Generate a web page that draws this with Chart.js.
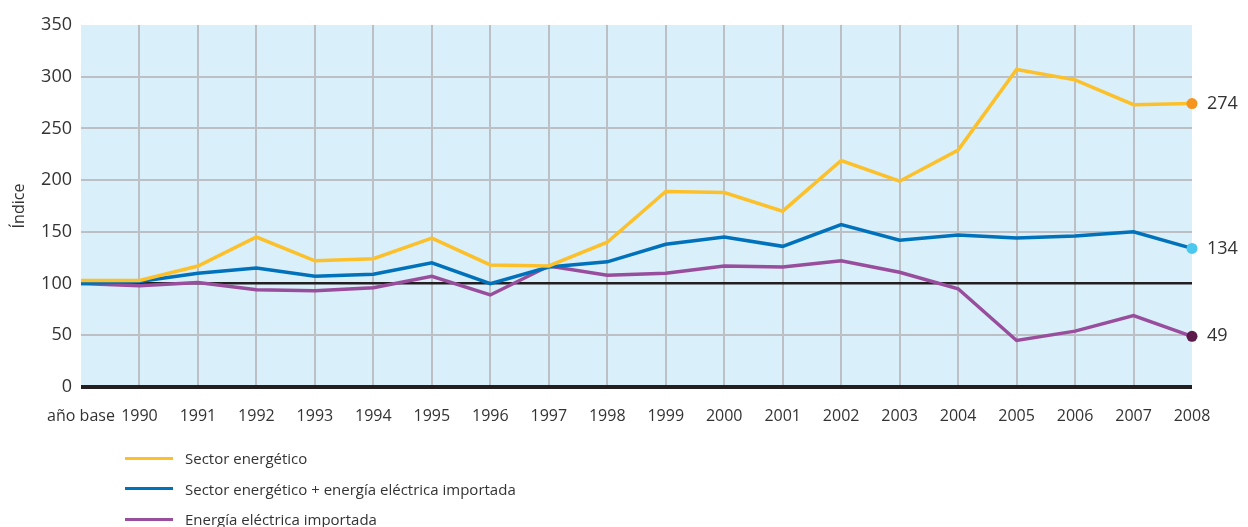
<!DOCTYPE html>
<html>
<head>
<meta charset="utf-8">
<script src="https://cdn.jsdelivr.net/npm/chart.js@4.4.0/dist/chart.umd.min.js"></script>
<style>
  html, body { margin: 0; padding: 0; background: #fff; }
  #wrap { position: relative; width: 1248px; height: 527px; overflow: hidden; }
  #legend { position: absolute; left: 125px; top: 443px; font-family: "Open Sans", sans-serif; font-size: 15px; color: #333; }
  #legend div { height: 30.5px; display: flex; align-items: center; }
  #legend span.sw { display: inline-block; width: 48px; height: 3px; margin-right: 12px; }
</style>
</head>
<body>
<div id="wrap">
  <canvas id="chart" width="1248" height="527"></canvas>
  <div id="legend">
    <div><span class="sw" style="background:#fcc12a"></span>Sector energético</div>
    <div><span class="sw" style="background:#0071bb"></span>Sector energético + energía eléctrica importada</div>
    <div><span class="sw" style="background:#984d9d"></span>Energía eléctrica importada</div>
  </div>
</div>
<script>
// categories and series
var categories = ['año base', '1990', '1991', '1992', '1993', '1994', '1995', '1996', '1997', '1998',
                  '1999', '2000', '2001', '2002', '2003', '2004', '2005', '2006', '2007', '2008'];
var sectorEnergetico = [103, 103, 117, 145, 122, 124, 144, 118, 117, 140, 189, 188, 170, 219, 199, 229, 307, 297, 273, 274];
var sectorMasImportada = [100, 102, 110, 115, 107, 109, 120, 100, 116, 121, 138, 145, 136, 157, 142, 147, 144, 146, 150, 134];
var electricaImportada = [100, 98, 101, 94, 93, 96, 107, 89, 117, 108, 110, 117, 116, 122, 111, 95, 45, 54, 69, 49];

var lineColors = ['#fcc12a', '#0071bb', '#984d9d'];
var endColors = ['#f7941d', '#4cc7ed', '#5b1a4a'];
var last = categories.length - 1;

function endPoint(color) {
    return function (c) { return c.dataIndex === last ? color : 'rgba(0,0,0,0)'; };
}
function endRadius(c) { return c.dataIndex === last ? 5.5 : 0; }

// light blue plot background + value labels at the end of each line
var plotExtras = {
    id: 'plotExtras',
    beforeDraw: function (chart) {
        var a = chart.chartArea, ctx = chart.ctx;
        ctx.save();
        ctx.fillStyle = '#d9eff9';
        ctx.fillRect(a.left, a.top, a.right - a.left, a.bottom - a.top);
        ctx.restore();
    },
    afterDatasetsDraw: function (chart) {
        var ctx = chart.ctx;
        ctx.save();
        ctx.font = '18px "Open Sans", sans-serif';
        ctx.fillStyle = '#333';
        ctx.textBaseline = 'middle';
        chart.data.datasets.forEach(function (ds, i) {
            var pt = chart.getDatasetMeta(i).data[last];
            ctx.fillText(String(ds.data[last]), pt.x + 15, pt.y);
        });
        ctx.restore();
    }
};

var ctx = document.getElementById('chart').getContext('2d');
var chart = new Chart(ctx, {
    type: 'line',
    data: {
        labels: categories,
        datasets: [{
            label: 'Sector energético',
            data: sectorEnergetico,
            borderColor: lineColors[0],
            pointBackgroundColor: endPoint(endColors[0]),
            pointBorderWidth: 0,
            pointRadius: endRadius
        }, {
            label: 'Sector energético + energía eléctrica importada',
            data: sectorMasImportada,
            borderColor: lineColors[1],
            pointBackgroundColor: endPoint(endColors[1]),
            pointBorderWidth: 0,
            pointRadius: endRadius
        }, {
            label: 'Energía eléctrica importada',
            data: electricaImportada,
            borderColor: lineColors[2],
            pointBackgroundColor: endPoint(endColors[2]),
            pointBorderWidth: 0,
            pointRadius: endRadius
        }]
    },
    options: {
        responsive: false,
        animation: false,
        clip: false,
        elements: { line: { borderWidth: 3.5, tension: 0 } },
        layout: { padding: { left: 6, right: 56, top: 25, bottom: 0 } },
        plugins: { legend: { display: false }, tooltip: { enabled: false } },
        scales: {
            x: {
                offset: false,
                border: { display: false },
                grid: {
                    drawTicks: false,
                    lineWidth: 2,
                    color: function (c) {
                        return (c.index === 0 || c.index === last) ? 'rgba(0,0,0,0)' : '#bcc0c4';
                    }
                },
                ticks: {
                    autoSkip: false,
                    maxRotation: 0,
                    padding: 20,
                    color: '#333',
                    font: { family: '"Open Sans", sans-serif', size: 16 }
                },
                afterFit: function (s) { s.height = 140; }
            },
            y: {
                min: 0,
                max: 350,
                border: { display: false },
                title: {
                    display: true,
                    text: 'Índice',
                    color: '#333',
                    font: { family: '"Open Sans", sans-serif', size: 16 }
                },
                grid: {
                    drawTicks: false,
                    color: function (c) {
                        if (c.tick.value === 350) return 'rgba(0,0,0,0)';
                        return (c.tick.value === 0 || c.tick.value === 100) ? '#231f20' : '#bcc0c4';
                    },
                    lineWidth: function (c) {
                        if (c.tick.value === 0) return 4;
                        if (c.tick.value === 100) return 2.5;
                        return 2;
                    }
                },
                ticks: {
                    stepSize: 50,
                    padding: 9,
                    color: '#333',
                    font: { family: '"Open Sans", sans-serif', size: 18 }
                },
                afterFit: function (s) { s.width = 75; }
            }
        }
    },
    plugins: [plotExtras]
});
</script>
</body>
</html>
